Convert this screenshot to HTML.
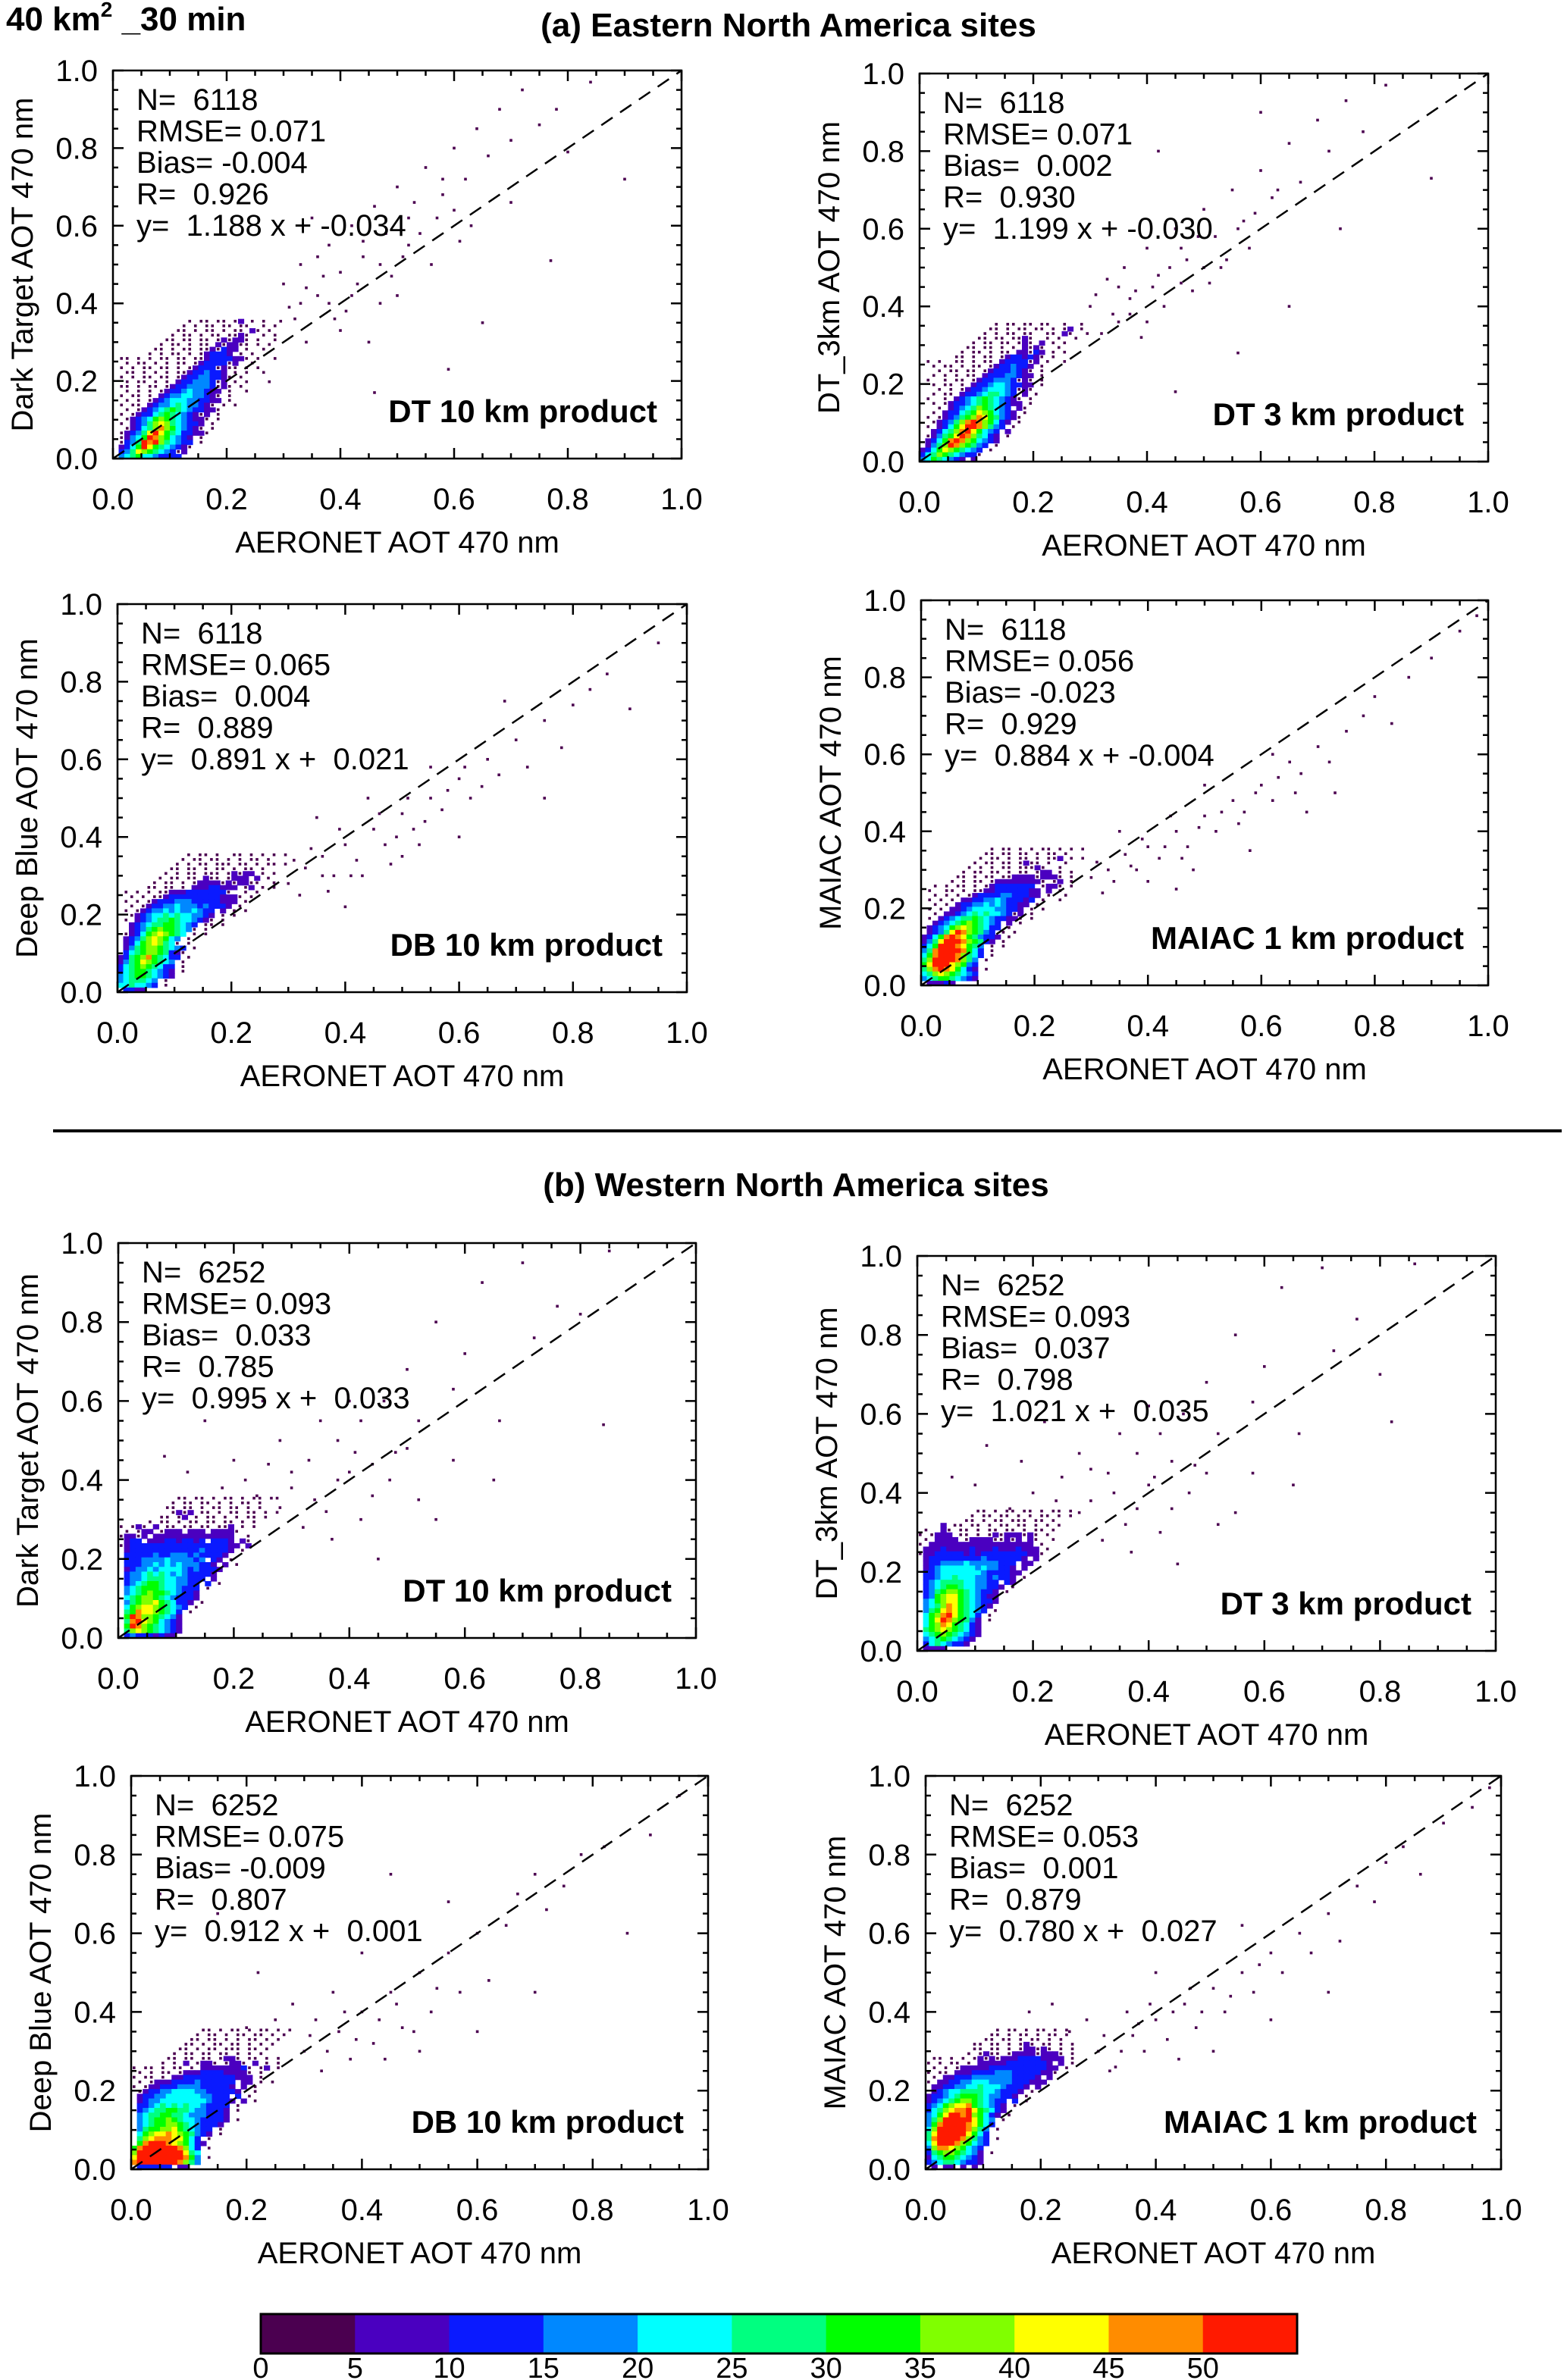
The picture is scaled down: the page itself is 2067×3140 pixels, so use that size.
<!DOCTYPE html>
<html><head><meta charset="utf-8"><title>AOT validation scatter density</title>
<style>
html,body{margin:0;padding:0;background:#fff;}
svg{display:block;font-family:"Liberation Sans",sans-serif;}
</style></head>
<body>
<svg id="fig" xmlns="http://www.w3.org/2000/svg" width="2067" height="3140" viewBox="0 0 2067 3140">
<rect x="0" y="0" width="2067" height="3140" fill="#fff"/>
<text x="8" y="40" font-size="44" font-weight="bold">40 km<tspan font-size="28" dy="-18">2</tspan><tspan dy="18"> _30 min</tspan></text>
<text x="1040" y="48" font-size="44" font-weight="bold" text-anchor="middle">(a) Eastern North America sites</text>
<line x1="70" y1="1492" x2="2060" y2="1492" stroke="#000" stroke-width="4"/>
<text x="1050" y="1578" font-size="44" font-weight="bold" text-anchor="middle">(b) Western North America  sites</text>
<g id="panels"></g>
<g id="cbar"></g>
</svg>
<script>
// ---- data ----
const xTicks = [0, 0.2, 0.4, 0.6, 0.8, 1.0];
const tickLabels = ["0.0", "0.2", "0.4", "0.6", "0.8", "1.0"];
const colorbarLabels = ["0", "5", "10", "15", "20", "25", "30", "35", "40", "45", "50"];
const levelColors = ["#4b0050", "#4a00c0", "#0a1aff", "#0088ff", "#00ffff", "#00ff80", "#00ff00", "#80ff00", "#ffff00", "#ff8c00", "#ff1a00"];
const yTitles = ["Dark Target AOT 470 nm", "DT_3km AOT 470 nm", "Deep Blue AOT 470 nm", "MAIAC AOT 470 nm",
                 "Dark Target AOT 470 nm", "DT_3km AOT 470 nm", "Deep Blue AOT 470 nm", "MAIAC AOT 470 nm"];
const productLabels = ["DT 10 km product", "DT 3 km product", "DB 10 km product", "MAIAC 1 km product",
                       "DT 10 km product", "DT 3 km product", "DB 10 km product", "MAIAC 1 km product"];
const statN = ["6118", "6118", "6118", "6118", "6252", "6252", "6252", "6252"];
const statRMSE = ["0.071", "0.071", "0.065", "0.056", "0.093", "0.093", "0.075", "0.053"];
const statBias = ["-0.004", " 0.002", " 0.004", "-0.023", " 0.033", " 0.037", "-0.009", " 0.001"];
const statR = ["0.926", "0.930", "0.889", "0.929", "0.785", "0.798", "0.807", "0.879"];
const statSlope = ["1.188", "1.199", "0.891", "0.884", "0.995", "1.021", "0.912", "0.780"];
const statIntercept = ["+ -0.034", "+ -0.030", "+  0.021", "+ -0.004", "+  0.033", "+  0.035", "+  0.001", "+  0.027"];

// density grids: top row first, cols x bin 0.01, rows y bin 0.012; '.'=1-4 pts, 1..9,A = colour levels
const gridA1 = [
"             . .. .. .1 . .  .","            . . .. .. ..  . . ","           .. . .. . .. 1. .  ","          . .. . .. ..1.  . . ",
"         .. .. .. .1.11. .  . ","        . .. . .. 1.11.. . .  ","       .. . .. ..1.211 .  .   ","      . . .. . .12221 . .     ",
" .. . . .. .. ..1222211. .  . ","  . .. . . .. .12222.1  .     "," . . .. .. . .1222.1.. . .    ","  .. . . . ..1223221 . .  .   ",
" . . .. .. .12233221. .       ","  . .. . . 1223332.1 . .   .  "," .. . .. .12233332.1. .       ","  . . . .1223433211 .  .      ",
" . .. . 1233443321. .         ","  . . .123444332211 .         "," . .. 12334543321. . .        ","  . .1234565432211.           ",
" . .12245654321.1 .           ","  .1234676543211. .           "," . 1235787543221 .            ","  .124579764321. .            ",
" .12358A86542211.             "," .1346A9764321 .              "," .235A9A754322 .              "," 1246A8654321.                ",
" 2358765432.1                 "," 34564432222                  "];
const gridA2 = [
"             . .. .. ..  .  . ","            .. . .. .. . .1 . ","           . . .. ..  .. 1.  .","          .. .. ..1.  . .  .  ",
"         . .. .. .1. 1 . .    ","        .. .. . . 1.1.  .     ","       . .. . .. 11.21 . .    ","      .. . .. .122121. .      ",
" . .  .. . .. 12222.1 .  .    ","  . .. . .. .1223221 .        ","   . .. .. .1222321. .        ","  . . . .. 122233211 .        ",
" .  . .. .1223332.1. .        ","  . .. . 12234432211 .        ","   . . .122344432.1.          ","  . .. 1223455432 1 .         ",
" .  . 12345654321. .          ","  . .1223456543211 .          ","   . 12345765432 1.           ","  . 1224568764321 .           ",
" . .1235679865321.            ","  .123579A976421 .            "," . 12468AA97532 .             ","  124579A86432 1              ",
" .13568A975421 .              "," 12469A9764321                "," 1357A976532 .                ","12468765432 .                 ",
"2457654322.                   ","34654321 1                    "];
const gridA3 = [
"            . .. .  .. . . . .","           . .. .. . . .. .  ","          . . .. ... .. . .. .","         .. .. . .. . .. .   ",
"        . . .. ... .1.11 . . ","       . .. .. 1.. .111 1 .  ","      . .. . .1111.1.11..  .  ","     .. .. . 11122111 .1 . .  ",
" . . . ..1112222222.  . .    ","  . . ..1222222222111. .     "," . . .122233322222111 .      ","  . .122334333232221 .       ",
" . .1233434334322 1 . .      ","  .12344545443321 . .        "," . 1234556544321. .          ","  123455665432 .. .          ",
"  12356766543. .             "," .1246787654 . .             "," 1235787643 .                "," 124678754. .                ",
" 13567765432 .               "," 2456776521.                 ","12567965422 .                ","1356876543 .                 ",
"2456765422 .                 ","2456654321 .                 ","3456654321                   ","3455543 .                    ",
"4454432 .                    "," 2211                        "];
const gridA4 = [
"            . .. . . .. . . .  ","           .. .. .. . .. .   ","          . .. . .. . ..1 . . ","         . .. .. .1.. .  .    ",
"        . . . .. ...1.  .    ","       . .. .. . .. .11 . .  ","      .. . .. ..1111.111. .  ","     . . .. .11111111. .1 .   ",
"  . . .. . .12222222 .11. .  "," .  .. . ..1122222211 1 .    ","  . . . .122223322211 .  .   "," . . . 1122334322212 .  .    ",
"  . . 1223343432211 .        "," . . 1123444433221 . .       ","  . 112345454432.1 .         "," . 12345565432211. .         ",
"  123456765432 1 .           "," 1234678765422 .             "," 12358A976532 . .            ","12469A98653221 .             ",
"1358AAA976521 .              ","246AAA98653 . .              ","359AAAA9642 .                ","469AAA97542 .                ",
"57AAAA9753 .                 ","68AAA87632                   ","579A986421 .                 ","4578765432                   ",
"3456654321                   "," 11121                       "];
const gridB1 = [
"          .. .. . .. . .. .. ","         . .. .. . . .. .    ","        .. .. . .. .. . .    ","         .1.1 .. . .. .. . .  ",
"       .. .1 . .. . . .. .   ","     . .. . .. .. .. . .     ",". .1. 1 .. .. .. ..1 . .     "," . .11 .111 111 1111.        ",
".11.1 11111111111111  .      "," 122 1112212212 2221 1.      ",".12222222222222222211 1      "," 1222222222222322221 .       ",
" 222223223332322221          "," 22233334333323 21 .         "," 2223343434333221 1 .        "," 12334344443232221           ",
" 2334545434322221            "," 23345554433222 1            "," 2345665443322 2 .           "," 3456665443222 .             ",
" 3456766543221               "," 4567765432221               "," 356778654221 .              "," 46788765432 .               ",
" 5698876542 .                "," 6A97765431                  "," 59A8764321                  "," 6A97654321                  ",
" 5787654321                  "," 232221211                   "];
const gridB2 = [
"          .. . .. .. . .. .  ","         . .. .. . . .. . .  ","        .. . .. ... .. .     ","    1 .. .. . .. .. . . .    ",
" .  1. .. . .. .. . .. .     ",". .111 .. . .1.111.1. .      "," . 1111 .1111..1.1 1.  .     ",". 111111111111111111 .       ",
" 11121111211121112111 .      ",".11222221212222222211.       "," 122222222232222221 1        "," 1223333433333222 11         ",
" 1234444443433221 1          "," 22344444443222211           "," 2234454443323221 .          "," 2345555443322 21            ",
" 23456654433221 .            "," 2356776543221 .             "," 2367886543211               "," 3467886543221               ",
" 345798654321                "," 35689865432 .               "," 4679A86542 .                "," 468A976531 .                ",
" 4679865421                  "," 5678765421                  "," 4567654321                  "," 345654321                   ",
" 24543221                    "," 1111                        "];
const gridB3 = [
"            .. . .. . .. . . ","           . .. . .. .. . .  ","          .. .. . . .. . .   ","         .. . .. .. . . .    ",
"        .. . .. ... .. .     ","       . .. .. .. . . .      ","      .. .. .. .11. .. . .   ","     . . 1 .11. .11. 1 . .   ",
". .. . .. . 11111112. .1 .   "," . . .. .11122221111. .      ",". .. . 11222222222111 .      "," . .11122223222222 11 . .    ",
". .112223333222221 1 .       "," .12233444433222221  .       "," 1223344444433222 2 .        "," 12334444444432221 1 .       ",
" 2234545454432222 .          "," 2345566554332221 .          "," 3455665543332221            "," 3456676544322221 .          ",
" 345667765432221             "," 3566778654322 .             "," 4678898765321 .             "," 57899988642 .               ",
" 69AAA9876421                ","69AAAAAA9742 .               ","7AAAAAAAA854                 ","8AAAAAAAA963 .               ",
"9AAAAAAA9753                 "," 222222 11                   "];
const gridB4 = [
"            . .. . .. . .    ","           .. . .. . .. .    ","          .. .. . .. . .     ","        .. .. . .1. .. . .    ",
"        .. .. . .11.1. . .   ","       . .1.. .1111.111. .   "," .. . . .1.1.11122221111 .   ",". . .. . 1111122222221 1 .   ",
" . . .11111222222222211 .    ",". .. 11122223332222211.      "," . 11222333333322221 1       ",". 1122334443333222111        ",
" 11223344544432221 1         "," 1234455554432221 .          ","1223456665433221 .           ","12345677654322 2 .           ",
"23467889654321 .             ","2457899A865421               ","3468AA9A76421 .              ","357AAAAA8643 .               ",
"369AAAA98642                 ","47AAAAA9753 .                ","58AAAAA8642                  ","59AAAA97532 .                ",
"48AAA976432                  ","3799876432                   ","2567765431 .                 ","1456654321                   ",
"2345543221                   "," 1 11 1 1                    "];

// sparse points beyond the dense region [x, y]
const dotsA1 = [[0.3,0.45],[0.33,0.5],[0.36,0.42],[0.38,0.55],[0.4,0.48],[0.42,0.6],[0.44,0.52],[0.46,0.65],[0.48,0.58],[0.5,0.7],[0.52,0.62],[0.55,0.75],[0.58,0.68],[0.6,0.8],[0.62,0.72],[0.64,0.85],[0.66,0.78],[0.68,0.9],[0.7,0.82],[0.72,0.95],[0.75,0.86],[0.78,0.9],[0.8,0.79],[0.84,0.97],[0.9,0.72],[0.77,0.51],[0.65,0.35],[0.59,0.23],[0.46,0.17],[0.41,0.38],[0.35,0.62],[0.5,0.42],[0.45,0.3],[0.56,0.5],[0.63,0.6],[0.7,0.66],[0.32,0.36],[0.38,0.4],[0.43,0.45],[0.47,0.5],[0.34,0.3],[0.4,0.33],[0.52,0.55],[0.6,0.64],[0.31,0.39],[0.34,0.44],[0.37,0.47],[0.39,0.36],[0.42,0.42],[0.44,0.56],[0.49,0.47],[0.51,0.52],[0.54,0.58],[0.57,0.62],[0.36,0.52],[0.33,0.4],[0.47,0.4],[0.53,0.66],[0.58,0.72],[0.61,0.56]];
const dotsA2 = [[0.3,0.4],[0.33,0.47],[0.36,0.5],[0.38,0.44],[0.4,0.55],[0.42,0.48],[0.45,0.6],[0.47,0.52],[0.5,0.65],[0.52,0.58],[0.55,0.7],[0.57,0.62],[0.6,0.75],[0.62,0.68],[0.65,0.82],[0.67,0.72],[0.7,0.88],[0.72,0.8],[0.75,0.93],[0.78,0.85],[0.82,0.97],[0.9,0.73],[0.74,0.6],[0.65,0.4],[0.56,0.28],[0.45,0.18],[0.39,0.32],[0.43,0.4],[0.35,0.36],[0.48,0.44],[0.53,0.5],[0.58,0.55],[0.42,0.8],[0.6,0.9],[0.32,0.33],[0.37,0.38],[0.46,0.46],[0.5,0.5],[0.31,0.43],[0.34,0.38],[0.37,0.42],[0.41,0.45],[0.44,0.5],[0.46,0.55],[0.49,0.58],[0.51,0.46],[0.54,0.52],[0.56,0.6],[0.59,0.64],[0.63,0.7],[0.35,0.45],[0.4,0.36]];
const dotsA3 = [[0.3,0.28],[0.33,0.32],[0.36,0.35],[0.38,0.3],[0.4,0.38],[0.42,0.34],[0.45,0.42],[0.47,0.38],[0.5,0.46],[0.52,0.42],[0.55,0.5],[0.57,0.47],[0.6,0.55],[0.62,0.5],[0.65,0.6],[0.67,0.56],[0.7,0.65],[0.72,0.58],[0.75,0.7],[0.78,0.63],[0.8,0.74],[0.83,0.78],[0.86,0.82],[0.9,0.73],[0.95,0.9],[0.68,0.75],[0.6,0.4],[0.5,0.35],[0.4,0.22],[0.35,0.45],[0.44,0.5],[0.55,0.58],[0.75,0.5],[0.32,0.25],[0.37,0.26],[0.43,0.3],[0.48,0.33],[0.53,0.38],[0.31,0.34],[0.34,0.37],[0.39,0.42],[0.41,0.3],[0.46,0.46],[0.49,0.4],[0.51,0.5],[0.54,0.44],[0.58,0.52],[0.61,0.58],[0.64,0.53],[0.36,0.3]];
const dotsA4 = [[0.3,0.28],[0.33,0.3],[0.36,0.34],[0.38,0.3],[0.4,0.36],[0.42,0.33],[0.45,0.4],[0.47,0.36],[0.5,0.44],[0.52,0.4],[0.55,0.48],[0.57,0.45],[0.6,0.52],[0.62,0.48],[0.65,0.58],[0.67,0.55],[0.7,0.62],[0.72,0.58],[0.75,0.66],[0.78,0.7],[0.8,0.75],[0.83,0.68],[0.86,0.8],[0.9,0.85],[0.95,0.92],[0.98,0.96],[0.68,0.45],[0.58,0.35],[0.45,0.25],[0.35,0.4],[0.5,0.52],[0.62,0.6],[0.73,0.5],[0.32,0.24],[0.4,0.27],[0.48,0.3],[0.31,0.32],[0.34,0.27],[0.37,0.31],[0.39,0.38],[0.43,0.36],[0.46,0.33],[0.49,0.41],[0.53,0.45],[0.56,0.42],[0.59,0.5],[0.63,0.54],[0.66,0.5],[0.44,0.44]];
const dotsB1 = [[0.3,0.38],[0.33,0.45],[0.36,0.32],[0.38,0.5],[0.4,0.42],[0.42,0.55],[0.44,0.36],[0.46,0.6],[0.48,0.47],[0.5,0.68],[0.52,0.55],[0.55,0.8],[0.58,0.63],[0.6,0.72],[0.63,0.9],[0.66,0.55],[0.7,0.95],[0.72,0.76],[0.76,0.84],[0.8,0.82],[0.85,0.98],[0.84,0.54],[0.65,0.4],[0.55,0.3],[0.45,0.2],[0.4,0.6],[0.35,0.55],[0.28,0.5],[0.25,0.6],[0.32,0.28],[0.37,0.25],[0.42,0.3],[0.47,0.4],[0.52,0.35],[0.58,0.45],[0.2,0.45],[0.15,0.55],[0.22,0.4],[0.26,0.44],[0.3,0.42],[0.34,0.35],[0.38,0.4],[0.41,0.47],[0.44,0.44],[0.12,0.42],[0.18,0.38],[0.24,0.36],[0.08,0.46],[0.28,0.33],[0.5,0.48]];
const dotsB2 = [[0.3,0.38],[0.33,0.45],[0.36,0.32],[0.38,0.5],[0.4,0.42],[0.42,0.55],[0.44,0.36],[0.46,0.6],[0.48,0.47],[0.5,0.68],[0.52,0.55],[0.55,0.8],[0.58,0.63],[0.6,0.72],[0.63,0.92],[0.66,0.55],[0.7,0.97],[0.72,0.76],[0.76,0.84],[0.8,0.7],[0.86,0.98],[0.82,0.58],[0.65,0.42],[0.55,0.35],[0.45,0.22],[0.4,0.62],[0.35,0.55],[0.28,0.5],[0.22,0.58],[0.32,0.28],[0.37,0.25],[0.42,0.3],[0.47,0.4],[0.52,0.32],[0.58,0.45],[0.18,0.48],[0.12,0.52],[0.2,0.4],[0.25,0.44],[0.3,0.46],[0.34,0.4],[0.38,0.36],[0.41,0.44],[0.44,0.48],[0.1,0.42],[0.16,0.36],[0.24,0.38],[0.06,0.44],[0.28,0.35],[0.5,0.45]];
const dotsB3 = [[0.3,0.3],[0.33,0.25],[0.36,0.35],[0.38,0.28],[0.4,0.4],[0.42,0.32],[0.45,0.45],[0.47,0.36],[0.5,0.5],[0.52,0.4],[0.55,0.55],[0.57,0.45],[0.6,0.6],[0.62,0.48],[0.65,0.62],[0.67,0.7],[0.7,0.75],[0.72,0.66],[0.75,0.72],[0.78,0.8],[0.82,0.82],[0.86,0.6],[0.9,0.85],[0.95,0.95],[0.7,0.45],[0.6,0.35],[0.5,0.3],[0.4,0.55],[0.35,0.45],[0.28,0.42],[0.22,0.5],[0.15,0.65],[0.05,0.7],[0.45,0.75],[0.55,0.68],[0.32,0.38],[0.44,0.28],[0.31,0.34],[0.34,0.3],[0.37,0.4],[0.39,0.33],[0.43,0.38],[0.46,0.42],[0.49,0.35],[0.53,0.46],[0.25,0.38],[0.2,0.36]];
const dotsB4 = [[0.3,0.3],[0.33,0.26],[0.36,0.34],[0.38,0.3],[0.4,0.38],[0.42,0.33],[0.45,0.42],[0.47,0.36],[0.5,0.46],[0.52,0.4],[0.55,0.5],[0.57,0.45],[0.6,0.55],[0.62,0.5],[0.65,0.6],[0.67,0.55],[0.7,0.65],[0.72,0.58],[0.75,0.72],[0.78,0.68],[0.8,0.78],[0.83,0.82],[0.86,0.75],[0.9,0.88],[0.95,0.92],[0.98,0.97],[0.7,0.45],[0.6,0.38],[0.5,0.3],[0.4,0.5],[0.35,0.4],[0.28,0.38],[0.22,0.42],[0.55,0.62],[0.32,0.25],[0.44,0.28],[0.31,0.34],[0.34,0.3],[0.37,0.37],[0.39,0.42],[0.43,0.4],[0.46,0.46],[0.48,0.4],[0.53,0.44],[0.58,0.52],[0.25,0.35],[0.18,0.4]];

const grids = [gridA1, gridA2, gridA3, gridA4, gridB1, gridB2, gridB3, gridB4];
const dotSets = [dotsA1, dotsA2, dotsA3, dotsA4, dotsB1, dotsB2, dotsB3, dotsB4];

// ---- layout (pixel boxes: left, top, right, bottom) ----
const boxes = [[149,93,899,605],[1213,97,1963,609],[155,797,906,1309],[1215,792,1963,1300],
               [156,1640,918,2161],[1210,1657,1973,2178],[173,2343,934,2862],[1221,2343,1980,2862]];
const panelNames = ["east-dt10","east-dt3","east-db10","east-maiac","west-dt10","west-dt3","west-db10","west-maiac"];
const binX = 0.01, binY = 0.012;

const NS = "http://www.w3.org/2000/svg";
function mk(tag, attrs, parent){ const e=document.createElementNS(NS,tag); for(const k in attrs) e.setAttribute(k,attrs[k]); parent.appendChild(e); return e; }
function txt(str, attrs, parent){ const e=mk("text",attrs,parent); e.textContent=str; return e; }

const root = document.getElementById("panels");
boxes.forEach((b, p) => {
  const [L,T,R,B] = b, W=R-L, H=B-T;
  const sx = v => L + v*W, sy = v => B - v*H;
  const g = mk("g", {}, root);
  
  
  const cid = "clip"+p;
  const cp = mk("clipPath",{id:cid},g); mk("rect",{x:L,y:T,width:W,height:H},cp);
  const plot = mk("g",{"clip-path":"url(#"+cid+")"},g);
  
  
  const grid = grids[p], rows = grid.length;
  grid.forEach((row, r) => {
    const yv = (rows-1-r)*binY;
    for (let c=0;c<row.length;c++){
      const ch=row[c]; if(ch===' ') continue;
      const xv=c*binX;
      const x0=sx(xv), x1=sx(xv+binX), y0=sy(yv+binY), y1=sy(yv);
      if(ch==='.'){
        const cx=(x0+x1)/2, cy=(y0+y1)/2;
        const d=mk("rect",{x:cx-1.8,y:cy-1.8,width:3.6,height:3.6,fill:levelColors[0]},plot);
        
        
      } else {
        const lvl = ch==='A'?10:parseInt(ch,10);
        const cell=mk("rect",{x:x0,y:y0,width:x1-x0+0.6,height:y1-y0+0.6,fill:levelColors[lvl]},plot);
        
        
      }
    }
  });
  dotSets[p].forEach(pt => {
    const d=mk("rect",{x:sx(pt[0])-1.8,y:sy(pt[1])-1.8,width:3.6,height:3.6,fill:levelColors[0]},plot);
    
    
  });
  const ln=mk("line",{x1:sx(0),y1:sy(0),x2:sx(1),y2:sy(1),stroke:"#000","stroke-width":2.5,"stroke-dasharray":"18 12"},g);
  
  
  const bx=mk("rect",{x:L,y:T,width:W,height:H,fill:"none",stroke:"#000","stroke-width":2.5},g);
  
  
  let tk="";
  for(let i=0;i<=20;i++){
    const v=i*0.05, len=(i%4===0)?14:7;
    tk+=`M${sx(v)},${B}v${-len}M${sx(v)},${T}v${len}M${L},${sy(v)}h${len}M${R},${sy(v)}h${-len}`;
  }
  const tp=mk("path",{d:tk,stroke:"#000","stroke-width":2.5,fill:"none"},g);
  
  
  xTicks.forEach((v,i)=>{
    const xl=txt(tickLabels[i],{x:sx(v),y:B+67,"font-size":40,"text-anchor":"middle"},g);
    
    
    const yl=txt(tickLabels[i],{x:L-20,y:sy(v)+14,"font-size":40,"text-anchor":"end"},g);
    
    
  });
  const xt=txt("AERONET AOT 470 nm",{x:(L+R)/2,y:B+124,"font-size":40,"text-anchor":"middle"},g);
  
  
  const yt=txt(yTitles[p],{x:0,y:0,"font-size":40,"text-anchor":"middle",transform:`translate(${L-106},${(T+B)/2}) rotate(-90)`},g);
  
  
  const lines=["N=  "+statN[p],"RMSE= "+statRMSE[p],"Bias= "+statBias[p],"R=  "+statR[p],"y=  "+statSlope[p]+" x "+statIntercept[p]];
  lines.forEach((s,i)=>{
    const st=txt(s,{x:L+31,y:T+52+i*41.5,"font-size":40,"style":"white-space:pre"},g);
    
    
  });
  const pl=txt(productLabels[p],{x:R-32,y:B-48,"font-size":42,"font-weight":"bold","text-anchor":"end"},g);
  
  
});

// colorbar
const cb=document.getElementById("cbar");


const cbL=344, cbR=1711, cbT=3053, cbH=52, seg=(cbR-cbL)/levelColors.length;
levelColors.forEach((c,i)=>{
  const r=mk("rect",{x:cbL+i*seg,y:cbT,width:seg+0.5,height:cbH,fill:c},cb);
  
  
});
mk("rect",{x:cbL,y:cbT,width:cbR-cbL,height:cbH,fill:"none",stroke:"#000","stroke-width":3},cb);
colorbarLabels.forEach((s,i)=>{
  const t=txt(s,{x:cbL+i*seg,y:3137,"font-size":38,"text-anchor":"middle"},cb);
  
  
});
</script>
</body></html>
